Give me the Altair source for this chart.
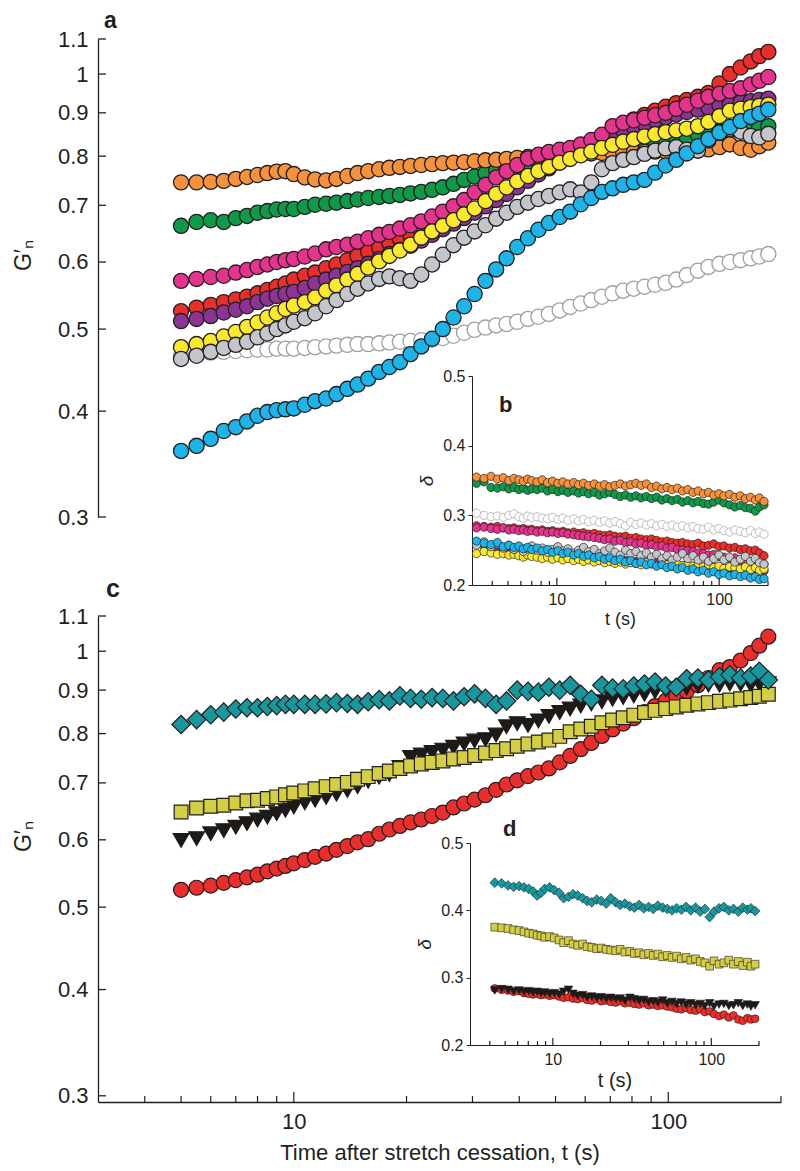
import altair as alt
import pandas as pd

# ---------------- time axes (s) ----------------
# main panels a and c
T = [5, 5.5, 6, 6.5, 7, 7.5, 8, 8.5, 9, 9.5,
     10, 10.7, 11.4, 12.2, 13, 13.9, 14.8, 15.8, 16.9, 18,
     19.2, 20.5, 21.9, 23.4, 25, 26.7, 28.5, 30.4, 32.5, 34.7,
     37, 39.5, 42.2, 45, 48, 51.3, 54.7, 58.4, 62.3, 66.5,
     71, 75.8, 80.9, 86.4, 92.2, 98.4, 105, 112, 120, 128,
     137, 146, 156, 166, 175, 185]
# inset b (its points start right at the inset's axis)
T_B = [3.2, 3.56, 3.93, 4.3, 4.68, 5.06, 5.44, 5.83, 6.21, 6.6,
       7.0, 7.55, 8.12, 8.76, 9.41, 10.15, 10.9, 11.7, 12.7, 13.6,
       14.6, 15.7, 17.0, 18.3, 19.7, 21.2, 22.8, 24.6, 26.5, 28.5,
       30.7, 33.0, 35.6, 38.3, 41.2, 44.4, 47.7, 51.3, 55.3, 59.5,
       64.1, 69.0, 74.2, 80.0, 86.0, 92.6, 99.7, 107, 116, 125,
       135, 145, 156, 167, 177, 189]
# inset d
T_D = [4.3, 4.75, 5.21, 5.66, 6.12, 6.58, 7.04, 7.5, 7.96, 8.42,
       8.89, 9.54, 10.2, 10.95, 11.7, 12.55, 13.4, 14.35, 15.4, 16.45,
       17.6, 18.9, 20.2, 21.7, 23.2, 24.9, 26.6, 28.5, 30.6, 32.7,
       35.0, 37.5, 40.2, 43.0, 46.0, 49.3, 52.7, 56.5, 60.4, 64.7,
       69.3, 74.2, 79.5, 85.1, 91.1, 97.6, 104, 112, 120, 129,
       138, 148, 158, 169, 178, 189]

# ---------------- panel a : G'n ----------------
A_OPEN = [0.465, 0.467, 0.469, 0.470, 0.471, 0.472, 0.473, 0.473, 0.474, 0.474,
          0.474, 0.475, 0.476, 0.477, 0.478, 0.479, 0.480, 0.480, 0.481, 0.482,
          0.483, 0.484, 0.485, 0.486, 0.488, 0.491, 0.495, 0.499, 0.502, 0.505,
          0.507, 0.510, 0.514, 0.517, 0.521, 0.526, 0.531, 0.536, 0.541, 0.546,
          0.551, 0.555, 0.558, 0.561, 0.564, 0.567, 0.572, 0.579, 0.586, 0.592,
          0.597, 0.600, 0.603, 0.606, 0.609, 0.613]
A_GREEN = [0.662, 0.669, 0.672, 0.669, 0.676, 0.680, 0.686, 0.689, 0.692, 0.693,
           0.693, 0.697, 0.701, 0.703, 0.705, 0.708, 0.711, 0.714, 0.716, 0.718,
           0.720, 0.723, 0.726, 0.730, 0.735, 0.742, 0.750, 0.757, 0.764, 0.770,
           0.775, 0.779, 0.783, 0.787, 0.791, 0.795, 0.799, 0.803, 0.807, 0.811,
           0.815, 0.819, 0.823, 0.827, 0.831, 0.835, 0.839, 0.843, 0.847, 0.851,
           0.855, 0.858, 0.861, 0.863, 0.866, 0.868]
A_ORANGE = [0.745, 0.745, 0.746, 0.748, 0.752, 0.756, 0.760, 0.764, 0.767, 0.768,
            0.762, 0.755, 0.751, 0.749, 0.752, 0.758, 0.764, 0.768, 0.772, 0.775,
            0.777, 0.779, 0.781, 0.783, 0.785, 0.786, 0.787, 0.789, 0.791, 0.792,
            0.794, 0.796, 0.798, 0.800, 0.801, 0.803, 0.804, 0.805, 0.806, 0.807,
            0.808, 0.808, 0.809, 0.809, 0.810, 0.810, 0.811, 0.812, 0.813, 0.815,
            0.820, 0.826, 0.818, 0.814, 0.822, 0.830]
A_RED = [0.525, 0.530, 0.534, 0.538, 0.542, 0.546, 0.551, 0.556, 0.561, 0.566,
         0.572, 0.578, 0.583, 0.590, 0.596, 0.603, 0.610, 0.617, 0.624, 0.632,
         0.639, 0.645, 0.651, 0.658, 0.666, 0.674, 0.682, 0.690, 0.700, 0.712,
         0.724, 0.737, 0.750, 0.763, 0.776, 0.789, 0.802, 0.815, 0.830, 0.845,
         0.860, 0.872, 0.884, 0.895, 0.905, 0.915, 0.924, 0.932, 0.940, 0.950,
         0.975, 1.000, 1.018, 1.035, 1.050, 1.062]
A_PURPLE = [0.511, 0.514, 0.518, 0.523, 0.527, 0.532, 0.538, 0.543, 0.547, 0.550,
            0.553, 0.559, 0.566, 0.572, 0.578, 0.584, 0.590, 0.597, 0.605, 0.613,
            0.620, 0.627, 0.636, 0.646, 0.656, 0.666, 0.676, 0.686, 0.698, 0.710,
            0.722, 0.735, 0.748, 0.761, 0.774, 0.787, 0.800, 0.812, 0.824, 0.836,
            0.848, 0.858, 0.866, 0.874, 0.882, 0.889, 0.896, 0.902, 0.908, 0.913,
            0.918, 0.922, 0.926, 0.929, 0.932, 0.935]
A_PINK = [0.570, 0.573, 0.576, 0.578, 0.583, 0.587, 0.592, 0.596, 0.600, 0.603,
          0.605, 0.609, 0.614, 0.621, 0.625, 0.629, 0.634, 0.640, 0.646, 0.651,
          0.657, 0.663, 0.670, 0.679, 0.688, 0.698, 0.710, 0.725, 0.740, 0.755,
          0.768, 0.781, 0.795, 0.803, 0.809, 0.814, 0.818, 0.826, 0.836, 0.848,
          0.868, 0.876, 0.882, 0.888, 0.894, 0.900, 0.910, 0.920, 0.930, 0.940,
          0.948, 0.955, 0.962, 0.972, 0.982, 0.992]
A_YELLOW = [0.476, 0.480, 0.484, 0.490, 0.496, 0.503, 0.509, 0.516, 0.522, 0.528,
            0.533, 0.538, 0.545, 0.555, 0.563, 0.572, 0.581, 0.591, 0.601, 0.610,
            0.619, 0.629, 0.641, 0.652, 0.662, 0.672, 0.683, 0.694, 0.708, 0.722,
            0.735, 0.747, 0.758, 0.768, 0.777, 0.786, 0.794, 0.802, 0.810, 0.818,
            0.825, 0.832, 0.838, 0.844, 0.849, 0.854, 0.858, 0.862, 0.868, 0.878,
            0.892, 0.905, 0.910, 0.914, 0.917, 0.920]
A_GREY = [0.461, 0.465, 0.470, 0.475, 0.479, 0.483, 0.489, 0.494, 0.500, 0.505,
          0.510, 0.515, 0.522, 0.532, 0.541, 0.550, 0.558, 0.566, 0.573, 0.577,
          0.574, 0.570, 0.580, 0.596, 0.612, 0.628, 0.641, 0.652, 0.663, 0.675,
          0.686, 0.697, 0.705, 0.712, 0.718, 0.725, 0.731, 0.725, 0.745, 0.772,
          0.785, 0.792, 0.798, 0.805, 0.812, 0.817, 0.820, 0.814, 0.812, 0.835,
          0.852, 0.862, 0.855, 0.845, 0.842, 0.850]
A_BLUE = [0.359, 0.364, 0.371, 0.379, 0.383, 0.389, 0.395, 0.399, 0.401, 0.402,
          0.403, 0.407, 0.411, 0.414, 0.419, 0.425, 0.430, 0.437, 0.445, 0.451,
          0.457, 0.467, 0.477, 0.487, 0.500, 0.516, 0.532, 0.550, 0.570, 0.588,
          0.606, 0.625, 0.640, 0.655, 0.667, 0.678, 0.688, 0.702, 0.714, 0.726,
          0.733, 0.740, 0.745, 0.750, 0.765, 0.780, 0.792, 0.806, 0.822, 0.838,
          0.853, 0.866, 0.880, 0.890, 0.898, 0.908]

# ---------------- inset b : delta ----------------
B_OPEN = [0.303, 0.300, 0.298, 0.299, 0.297, 0.300, 0.302, 0.298, 0.296, 0.299,
          0.297, 0.298, 0.296, 0.295, 0.297, 0.294, 0.296, 0.293, 0.295, 0.292,
          0.294, 0.291, 0.293, 0.290, 0.292, 0.289, 0.291, 0.288, 0.285, 0.290,
          0.287, 0.289, 0.286, 0.288, 0.285, 0.287, 0.284, 0.286, 0.283, 0.285,
          0.282, 0.284, 0.281, 0.280, 0.283, 0.279, 0.281, 0.278, 0.276, 0.279,
          0.277, 0.275, 0.278, 0.274, 0.276, 0.273]
B_GREEN = [0.346, 0.348, 0.340, 0.339, 0.341, 0.338, 0.340, 0.337, 0.339, 0.336,
           0.338, 0.337, 0.339, 0.335, 0.337, 0.334, 0.336, 0.333, 0.335, 0.332,
           0.334, 0.331, 0.333, 0.329, 0.331, 0.333, 0.330, 0.327, 0.329, 0.326,
           0.328, 0.325, 0.327, 0.324, 0.326, 0.322, 0.324, 0.321, 0.323, 0.319,
           0.321, 0.318, 0.320, 0.317, 0.316, 0.319, 0.322, 0.318, 0.315, 0.312,
           0.314, 0.311, 0.310, 0.306, 0.312, 0.315]
B_ORANGE = [0.355, 0.353, 0.356, 0.352, 0.354, 0.350, 0.353, 0.351, 0.349, 0.352,
            0.350, 0.348, 0.351, 0.347, 0.349, 0.346, 0.348, 0.345, 0.347, 0.344,
            0.346, 0.343, 0.345, 0.342, 0.344, 0.341, 0.343, 0.345, 0.342, 0.344,
            0.346, 0.343, 0.345, 0.340, 0.342, 0.338, 0.340, 0.337, 0.339, 0.335,
            0.337, 0.333, 0.335, 0.331, 0.333, 0.329, 0.331, 0.328, 0.330, 0.326,
            0.328, 0.324, 0.326, 0.322, 0.325, 0.320]
B_RED = [0.285, 0.284, 0.283, 0.284, 0.282, 0.281, 0.282, 0.280, 0.281, 0.279,
         0.280, 0.278, 0.279, 0.277, 0.278, 0.276, 0.277, 0.275, 0.276, 0.274,
         0.275, 0.273, 0.274, 0.272, 0.271, 0.272, 0.270, 0.269, 0.270, 0.267,
         0.268, 0.266, 0.265, 0.266, 0.264, 0.262, 0.263, 0.261, 0.260, 0.261,
         0.259, 0.258, 0.260, 0.256, 0.257, 0.259, 0.255, 0.256, 0.253, 0.254,
         0.251, 0.252, 0.249, 0.250, 0.246, 0.242]
B_PURPLE = [0.258, 0.256, 0.255, 0.253, 0.252, 0.250, 0.251, 0.249, 0.248, 0.247,
            0.246, 0.247, 0.245, 0.244, 0.243, 0.242, 0.241, 0.240, 0.239, 0.238,
            0.239, 0.237, 0.238, 0.236, 0.237, 0.235, 0.236, 0.234, 0.235, 0.233,
            0.234, 0.232, 0.233, 0.231, 0.232, 0.230, 0.231, 0.229, 0.230, 0.228,
            0.229, 0.227, 0.228, 0.226, 0.227, 0.225, 0.226, 0.224, 0.225, 0.223,
            0.224, 0.222, 0.223, 0.221, 0.222, 0.220]
B_PINK = [0.282, 0.283, 0.281, 0.280, 0.282, 0.279, 0.280, 0.278, 0.279, 0.277,
          0.278, 0.276, 0.277, 0.275, 0.276, 0.274, 0.275, 0.273, 0.272, 0.271,
          0.270, 0.269, 0.268, 0.267, 0.265, 0.266, 0.263, 0.264, 0.261, 0.262,
          0.259, 0.260, 0.257, 0.258, 0.255, 0.256, 0.253, 0.254, 0.251, 0.250,
          0.249, 0.248, 0.246, 0.245, 0.243, 0.244, 0.241, 0.240, 0.238, 0.239,
          0.236, 0.235, 0.233, 0.234, 0.231, 0.230]
B_YELLOW = [0.245, 0.248, 0.246, 0.244, 0.245, 0.243, 0.244, 0.242, 0.240, 0.243,
            0.241, 0.240, 0.238, 0.240, 0.237, 0.239, 0.236, 0.238, 0.235, 0.237,
            0.234, 0.236, 0.233, 0.235, 0.232, 0.234, 0.231, 0.233, 0.230, 0.232,
            0.231, 0.229, 0.232, 0.230, 0.228, 0.231, 0.229, 0.227, 0.230, 0.228,
            0.229, 0.227, 0.228, 0.226, 0.229, 0.225, 0.227, 0.224, 0.226, 0.225,
            0.223, 0.226, 0.222, 0.225, 0.221, 0.223]
B_GREY = [0.257, 0.262, 0.255, 0.259, 0.253, 0.257, 0.251, 0.254, 0.248, 0.252,
          0.256, 0.250, 0.253, 0.247, 0.251, 0.255, 0.249, 0.252, 0.246, 0.250,
          0.254, 0.248, 0.251, 0.245, 0.249, 0.253, 0.247, 0.243, 0.250, 0.245,
          0.248, 0.242, 0.246, 0.240, 0.244, 0.238, 0.242, 0.236, 0.240, 0.245,
          0.238, 0.242, 0.236, 0.240, 0.234, 0.238, 0.243, 0.236, 0.240, 0.233,
          0.237, 0.241, 0.234, 0.238, 0.232, 0.230]
B_BLUE = [0.263, 0.260, 0.258, 0.261, 0.255, 0.257, 0.254, 0.256, 0.252, 0.254,
          0.251, 0.253, 0.249, 0.251, 0.247, 0.249, 0.245, 0.247, 0.243, 0.245,
          0.241, 0.243, 0.239, 0.241, 0.237, 0.239, 0.235, 0.237, 0.233, 0.235,
          0.231, 0.233, 0.229, 0.231, 0.227, 0.229, 0.225, 0.227, 0.223, 0.225,
          0.221, 0.223, 0.219, 0.221, 0.217, 0.219, 0.215, 0.217, 0.213, 0.215,
          0.212, 0.214, 0.210, 0.212, 0.208, 0.209]

# ---------------- panel c : G'n ----------------
C_RED = [0.524, 0.527, 0.530, 0.534, 0.538, 0.542, 0.546, 0.551, 0.555, 0.559,
         0.563, 0.568, 0.573, 0.578, 0.584, 0.590, 0.596, 0.601, 0.610, 0.617,
         0.623, 0.629, 0.634, 0.640, 0.646, 0.655, 0.662, 0.669, 0.677, 0.687,
         0.697, 0.705, 0.713, 0.720, 0.728, 0.740, 0.753, 0.767, 0.780, 0.795,
         0.809, 0.822, 0.834, 0.848, 0.862, 0.874, 0.886, 0.897, 0.912, 0.930,
         0.950, 0.958, 0.975, 0.995, 1.015, 1.040]
C_BLACK = [0.599, 0.602, 0.610, 0.615, 0.621, 0.627, 0.633, 0.638, 0.644, 0.650,
           0.656, 0.663, 0.668, 0.673, 0.679, 0.686, 0.693, 0.703, 0.711, 0.716,
           0.730, 0.750, 0.755, 0.760, 0.765, 0.771, 0.778, 0.784, 0.787, 0.797,
           0.815, 0.822, 0.818, 0.828, 0.838, 0.847, 0.855, 0.862, 0.867, 0.872,
           0.878, 0.882, 0.886, 0.890, 0.896, 0.901, 0.903, 0.905, 0.910, 0.912,
           0.912, 0.915, 0.914, 0.912, 0.915, 0.916]
C_YELLOW = [0.647, 0.654, 0.657, 0.659, 0.663, 0.667, 0.668, 0.671, 0.674, 0.678,
            0.681, 0.685, 0.689, 0.693, 0.697, 0.701, 0.707, 0.712, 0.718, 0.723,
            0.728, 0.733, 0.737, 0.740, 0.743, 0.747, 0.750, 0.754, 0.759, 0.764,
            0.768, 0.773, 0.778, 0.782, 0.786, 0.794, 0.804, 0.810, 0.816, 0.824,
            0.830, 0.835, 0.841, 0.847, 0.852, 0.856, 0.860, 0.864, 0.867, 0.870,
            0.873, 0.876, 0.879, 0.882, 0.885, 0.890]
C_TEAL = [0.820, 0.831, 0.842, 0.848, 0.855, 0.858, 0.858, 0.861, 0.863, 0.866,
          0.866, 0.866, 0.866, 0.867, 0.870, 0.868, 0.866, 0.872, 0.877, 0.874,
          0.886, 0.880, 0.878, 0.882, 0.880, 0.874, 0.884, 0.891, 0.880, 0.866,
          0.874, 0.900, 0.897, 0.895, 0.907, 0.900, 0.912, 0.890, 0.878, 0.912,
          0.905, 0.903, 0.910, 0.915, 0.920, 0.910, 0.907, 0.928, 0.930, 0.925,
          0.933, 0.938, 0.930, 0.935, 0.947, 0.925]

# ---------------- inset d : delta ----------------
D_RED = [0.284, 0.282, 0.281, 0.279, 0.280, 0.277, 0.276, 0.275, 0.276, 0.274,
         0.275, 0.273, 0.274, 0.272, 0.270, 0.271, 0.269, 0.268, 0.270, 0.267,
         0.266, 0.268, 0.265, 0.266, 0.264, 0.263, 0.265, 0.262, 0.263, 0.261,
         0.260, 0.262, 0.259, 0.260, 0.258, 0.259, 0.257, 0.256, 0.254, 0.253,
         0.255, 0.252, 0.251, 0.253, 0.249, 0.250, 0.246, 0.243, 0.245, 0.241,
         0.244, 0.238, 0.236, 0.240, 0.238, 0.239]
D_BLACK = [0.281, 0.283, 0.282, 0.280, 0.281, 0.279, 0.280, 0.278, 0.279, 0.277,
           0.278, 0.276, 0.277, 0.275, 0.279, 0.282, 0.276, 0.273, 0.274, 0.271,
           0.272, 0.270, 0.271, 0.269, 0.270, 0.268, 0.269, 0.266, 0.270, 0.268,
           0.266, 0.267, 0.264, 0.265, 0.263, 0.266, 0.262, 0.264, 0.261, 0.263,
           0.260, 0.262, 0.259, 0.261, 0.258, 0.262, 0.257, 0.260, 0.261, 0.258,
           0.259, 0.262, 0.258, 0.260, 0.257, 0.259]
D_YELLOW = [0.375, 0.374, 0.373, 0.371, 0.370, 0.368, 0.366, 0.365, 0.363, 0.362,
            0.360, 0.361, 0.359, 0.356, 0.352, 0.355, 0.350, 0.348, 0.350, 0.346,
            0.345, 0.343, 0.344, 0.342, 0.341, 0.340, 0.342, 0.338, 0.339, 0.336,
            0.337, 0.334, 0.336, 0.333, 0.335, 0.331, 0.333, 0.330, 0.332, 0.328,
            0.330, 0.326, 0.328, 0.324, 0.322, 0.317, 0.325, 0.320, 0.322, 0.326,
            0.320, 0.324, 0.318, 0.323, 0.317, 0.320]
D_TEAL = [0.441, 0.440, 0.437, 0.435, 0.436, 0.434, 0.432, 0.428, 0.422, 0.426,
          0.432, 0.434, 0.430, 0.426, 0.418, 0.420, 0.424, 0.422, 0.418, 0.414,
          0.412, 0.416, 0.414, 0.410, 0.418, 0.412, 0.408, 0.410, 0.406, 0.404,
          0.408, 0.403, 0.405, 0.402, 0.407, 0.404, 0.402, 0.400, 0.403, 0.401,
          0.405, 0.400, 0.404, 0.398, 0.402, 0.390, 0.398, 0.403, 0.405, 0.400,
          0.402, 0.398, 0.404, 0.401, 0.403, 0.399]

# ---------------- categories, colours, ticks ----------------
A_NAMES = ["open", "green", "orange", "red", "purple", "pink", "yellow", "grey", "blue"]
A_FILLS = ["#ffffff", "#0f9a4a", "#f6923b", "#e92e2b", "#8d3493", "#e5348e",
           "#fde92c", "#c4c6cb", "#1db4e9"]
A_STROKES = ["#9da0a6", "#231f20", "#231f20", "#231f20", "#231f20", "#231f20",
             "#231f20", "#231f20", "#231f20"]
A_MAIN = [A_OPEN, A_GREEN, A_ORANGE, A_RED, A_PURPLE, A_PINK, A_YELLOW, A_GREY, A_BLUE]
B_INSET = [B_OPEN, B_GREEN, B_ORANGE, B_RED, B_PURPLE, B_PINK, B_YELLOW, B_GREY, B_BLUE]

C_NAMES = ["red", "black", "yellow", "teal"]
C_FILLS = ["#e92e2b", "#1e1a17", "#d4ce44", "#17979e"]
C_STROKES = ["#231f20", "#1e1a17", "#231f20", "#231f20"]
C_SHAPES = ["circle", "triangle-down", "square", "diamond"]
C_SIZES = [225, 250, 190, 340]
D_SIZES = [60, 75, 60, 95]
C_MAIN = [C_RED, C_BLACK, C_YELLOW, C_TEAL]
D_INSET = [D_RED, D_BLACK, D_YELLOW, D_TEAL]

Y_MAIN_TICKS = [0.3, 0.4, 0.5, 0.6, 0.7, 0.8, 0.9, 1, 1.1]
X_MAJOR = [10, 100]
X_MINOR = [4, 5, 6, 7, 8, 9, 20, 30, 40, 50, 60, 70, 80, 90, 200]
DELTA_TICKS = [0.2, 0.3, 0.4, 0.5]

# ---------------- layout ----------------
FONT = "Liberation Sans"
AX = "#231f20"
W = 683
H_A = 478
H_C = 486
X_DOM = [3, 200]
YA_DOM = [0.3, 1.1]
YC_DOM = [0.295, 1.1]
IB_X = [374, 670]
IB_Y = [546, 337]
ID_X = [372, 661]
ID_Y = [429, 227]
NO_FRAME = alt.ViewBackground(stroke=None, strokeWidth=0)


def long_df(names, lists, times):
    rows = []
    for k, (n, vals) in enumerate(zip(names, lists)):
        for i, (t, v) in enumerate(zip(times, vals)):
            rows.append({"t": t, "v": v, "s": n, "o": k * 1000 + i})
    return pd.DataFrame(rows)


def main_y_axis(title_y):
    return alt.Axis(values=Y_MAIN_TICKS, format="~g", ticks=False, tickSize=0,
                    labelPadding=10, labelFontSize=22, labelColor=AX, labelFont=FONT,
                    domainColor=AX, domainWidth=1.3, grid=False,
                    title="G′ₙ", titleFont=FONT, titleFontSize=23, titleFontWeight="normal",
                    titleColor=AX, titleX=-75, titleY=title_y, titleAlign="center",
                    titleBaseline="middle", titleAngle=270)


def inset_axes(xr, yr, plot_h, tsize):
    ax_x = alt.Axis(orient="bottom", offset=yr[0] - plot_h, values=X_MAJOR, format="~g",
                    ticks=False, tickSize=0, labelPadding=6, labelFontSize=16,
                    labelColor=AX, labelFont=FONT, domainColor=AX, domainWidth=1,
                    grid=False, title="t (s)", titleFont=FONT, titleFontSize=tsize,
                    titleFontWeight="normal", titleColor=AX, titlePadding=3)
    ax_y = alt.Axis(orient="left", offset=-xr[0], values=DELTA_TICKS, format=".1f",
                    tickSize=4, tickColor=AX, tickWidth=1, labelPadding=3,
                    labelFontSize=16, labelColor=AX, labelFont=FONT, domainColor=AX,
                    domainWidth=1, grid=False, title="δ", titleFont=FONT,
                    titleFontSize=19, titleFontStyle="italic", titleFontWeight="normal",
                    titleColor=AX, titlePadding=6)
    return ax_x, ax_y


def letter(ch, x, y, size):
    return alt.Chart(pd.DataFrame({"k": [ch]})).mark_text(
        align="left", baseline="alphabetic", fontSize=size, fontWeight="bold",
        font=FONT, color=AX).encode(x=alt.value(x), y=alt.value(y), text="k:N")


def x_ticks(scale, axis, ybase, major_len, minor_len):
    major = alt.Chart(pd.DataFrame({"t": X_MAJOR})).mark_rule(
        color=AX, strokeWidth=1.2).encode(
        x=alt.X("t:Q", scale=scale, axis=axis), y=alt.value(ybase), y2=alt.value(ybase - major_len))
    minor = alt.Chart(pd.DataFrame({"t": X_MINOR})).mark_rule(
        color=AX, strokeWidth=1.2).encode(
        x=alt.X("t:Q", scale=scale, axis=axis), y=alt.value(ybase), y2=alt.value(ybase - minor_len))
    return [major, minor]


# ================= top: panel a + inset b =================
df_a = long_df(A_NAMES, A_MAIN, T)
df_b = long_df(A_NAMES, B_INSET, T_B)
fill_a = alt.Fill("s:N", scale=alt.Scale(domain=A_NAMES, range=A_FILLS), legend=None)
stroke_a = alt.Stroke("s:N", scale=alt.Scale(domain=A_NAMES, range=A_STROKES), legend=None)

sx = alt.Scale(type="log", domain=X_DOM, nice=False)
sya = alt.Scale(type="log", domain=YA_DOM, nice=False)
ax_ya = main_y_axis(216)

pts_a = alt.Chart(df_a).mark_point(shape="circle", filled=True, opacity=1,
                                   strokeWidth=1.3, size=230).encode(
    x=alt.X("t:Q", scale=sx, axis=None),
    y=alt.Y("v:Q", scale=sya, axis=ax_ya),
    fill=fill_a, stroke=stroke_a, order=alt.Order("o:Q"))
yt_a = alt.Chart(pd.DataFrame({"v": Y_MAIN_TICKS})).mark_rule(color=AX, strokeWidth=1.3).encode(
    y=alt.Y("v:Q", scale=sya, axis=ax_ya), x=alt.value(0), x2=alt.value(8))
main_a = alt.layer(pts_a, yt_a, letter("a", 6, -11, 23))

sxb = alt.Scale(type="log", domain=X_DOM, range=IB_X, nice=False)
syb = alt.Scale(type="linear", domain=[0.2, 0.5], range=IB_Y, nice=False, zero=False)
ax_xb, ax_yb = inset_axes(IB_X, IB_Y, H_A, 18)
pts_b = alt.Chart(df_b).mark_point(shape="circle", filled=True, opacity=1,
                                   strokeWidth=0.7, size=68).encode(
    x=alt.X("t:Q", scale=sxb, axis=ax_xb),
    y=alt.Y("v:Q", scale=syb, axis=ax_yb),
    fill=fill_a, stroke=stroke_a, order=alt.Order("o:Q"))
inset_b = alt.layer(pts_b, *x_ticks(sxb, ax_xb, IB_Y[0], 7, 4), letter("b", 401, 373, 22))

top = alt.layer(main_a, inset_b).resolve_scale(x="independent", y="independent").properties(
    width=W, height=H_A, view=NO_FRAME)

# ================= bottom: panel c + inset d =================
syc = alt.Scale(type="log", domain=YC_DOM, nice=False)
ax_yc = main_y_axis(220)
ax_xc = alt.Axis(values=X_MAJOR, format="~g", ticks=False, tickSize=0, labelPadding=9,
                 labelFontSize=22, labelColor=AX, labelFont=FONT, domainColor=AX,
                 domainWidth=1.3, grid=False, title="Time after stretch cessation, t (s)",
                 titleFont=FONT, titleFontSize=22, titleFontWeight="normal",
                 titleColor=AX, titlePadding=10)

c_layers = []
for k, name in enumerate(C_NAMES):
    d = pd.DataFrame({"t": T, "v": C_MAIN[k]})
    c_layers.append(alt.Chart(d).mark_point(
        shape=C_SHAPES[k], filled=True, opacity=1, fill=C_FILLS[k], stroke=C_STROKES[k],
        strokeWidth=1.2, size=C_SIZES[k]).encode(
        x=alt.X("t:Q", scale=sx, axis=ax_xc), y=alt.Y("v:Q", scale=syc, axis=ax_yc)))
yt_c = alt.Chart(pd.DataFrame({"v": Y_MAIN_TICKS})).mark_rule(color=AX, strokeWidth=1.3).encode(
    y=alt.Y("v:Q", scale=syc, axis=ax_yc), x=alt.value(0), x2=alt.value(8))
main_c = alt.layer(*c_layers, yt_c, *x_ticks(sx, ax_xc, H_C, 10, 6), letter("c", 8, -19, 25))

sxd = alt.Scale(type="log", domain=X_DOM, range=ID_X, nice=False)
syd = alt.Scale(type="linear", domain=[0.2, 0.5], range=ID_Y, nice=False, zero=False)
ax_xd, ax_yd = inset_axes(ID_X, ID_Y, H_C, 20)
d_layers = []
for k, name in enumerate(C_NAMES):
    d = pd.DataFrame({"t": T_D, "v": D_INSET[k]})
    d_layers.append(alt.Chart(d).mark_point(
        shape=C_SHAPES[k], filled=True, opacity=1, fill=C_FILLS[k], stroke=C_STROKES[k],
        strokeWidth=0.6, size=D_SIZES[k]).encode(
        x=alt.X("t:Q", scale=sxd, axis=ax_xd), y=alt.Y("v:Q", scale=syd, axis=ax_yd)))
inset_d = alt.layer(*d_layers, *x_ticks(sxd, ax_xd, ID_Y[0], 7, 4), letter("d", 405, 220, 22))

bottom = alt.layer(main_c, inset_d).resolve_scale(x="independent", y="independent").properties(
    width=W, height=H_C, view=NO_FRAME)

chart = alt.vconcat(top, bottom, spacing=99, bounds="flush").properties(
    padding={"left": 4, "top": 2, "right": 5, "bottom": 5}
).configure_view(stroke=None, strokeWidth=0).configure(font=FONT, background="white")

chart.save("out.html", embed_options={"renderer": "svg", "actions": False})
